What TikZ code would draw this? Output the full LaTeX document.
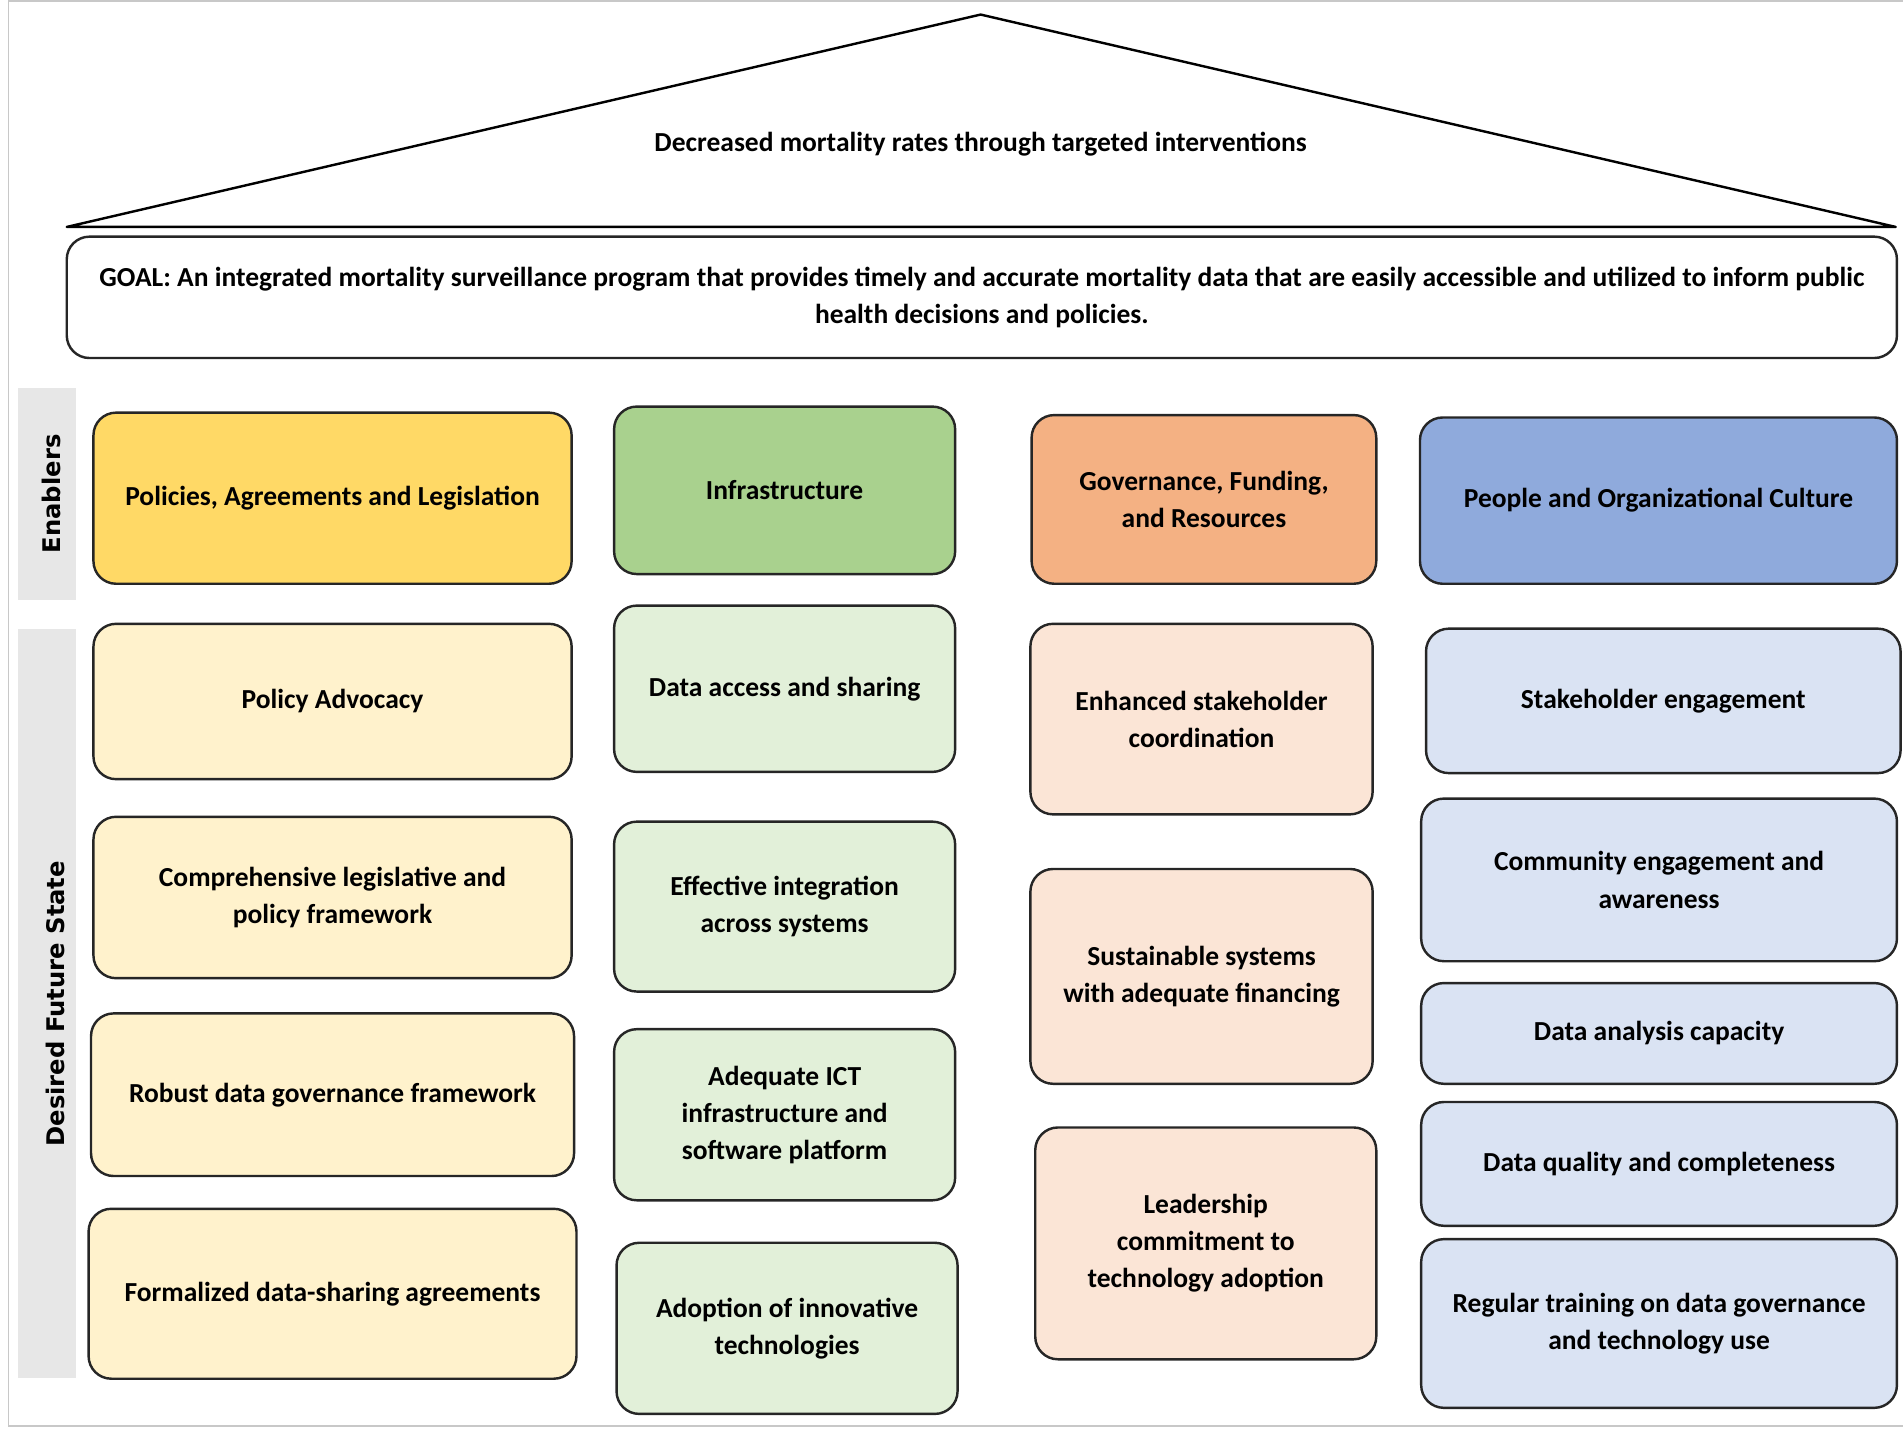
\documentclass[tikz,border=0pt]{standalone}
\usepackage{fontspec}
\setmainfont{Carlito}
\newfontfamily\sidefont{DejaVu Sans}

\definecolor{polDark}{HTML}{FFD966}
\definecolor{polLight}{HTML}{FFF2CC}
\definecolor{infDark}{HTML}{A9D18E}
\definecolor{infLight}{HTML}{E2F0D9}
\definecolor{govDark}{HTML}{F4B183}
\definecolor{govLight}{HTML}{FBE5D6}
\definecolor{pplDark}{HTML}{8FAADC}
\definecolor{pplLight}{HTML}{DAE3F3}
\definecolor{bandGray}{HTML}{E7E7E7}
\definecolor{frameGray}{HTML}{C8C8C8}

\tikzset{every picture/.style={line width=0.75pt}}
\tikzset{
  pillar/.style={draw=black!85, line width=1.5pt, rounded corners=14pt, align=center, inner sep=2pt,
    font=\bfseries\fontsize{17}{23}\selectfont},
  band/.style={fill=bandGray, draw=none},
  bandlabel/.style={rotate=90, font=\sidefont\bfseries\fontsize{15}{17}\selectfont}
}

\begin{document}
\begin{tikzpicture}[x=0.75pt,y=0.75pt,yscale=-1,xscale=1]
	\useasboundingbox (0,0) rectangle (1568,1177);
	%Frame
	\draw [frameGray, line width=1pt] (1568,1) -- (7,1) -- (7,1175) -- (1568,1175) ;

	%Shape: Roof
	\draw [line width=1.5pt, line join=round] (55,187) -- (808,12) -- (1562,187) -- cycle ;
	% Text Node
	\node [font=\bfseries\fontsize{17}{23}\selectfont] (roof) at (808,119) {Decreased mortality rates through targeted interventions};

	%Shape: Goal box
	\node [pillar, fill=white, minimum width=1131pt, minimum height=75pt] (goal) at (809,245)
	  {GOAL: An integrated mortality surveillance program that provides timely and accurate mortality data that are easily accessible and utilized to inform public\\ health decisions and policies.};

	%Side bands
	\fill [band] (15,320) rectangle (63,494) ;
	\fill [band] (15,518) rectangle (63,1135) ;
	% Text Node
	\node [bandlabel] (enab) at (42,407) {Enablers};
	% Text Node
	\node [bandlabel] (future) at (46,827) {Desired Future State};

	%Column: Policies
	\node [pillar, fill=polDark, minimum width=295.5pt, minimum height=105.75pt] (pol) at (274,410.5) {Policies, Agreements and Legislation};
	\node [pillar, fill=polLight, minimum width=295.5pt, minimum height=96pt] (adv) at (274,578) {Policy Advocacy};
	\node [pillar, fill=polLight, minimum width=295.5pt, minimum height=99.75pt] (leg) at (274,739.5) {Comprehensive legislative and\\ policy framework};
	\node [pillar, fill=polLight, minimum width=298.5pt, minimum height=100.5pt] (dgov) at (274,902) {Robust data governance framework};
	\node [pillar, fill=polLight, minimum width=301.5pt, minimum height=105pt] (dsa) at (274,1066) {Formalized data-sharing agreements};

	%Column: Infrastructure
	\node [pillar, fill=infDark, minimum width=210.75pt, minimum height=103.5pt] (infra) at (646.5,404) {Infrastructure};
	\node [pillar, fill=infLight, minimum width=210.75pt, minimum height=102.75pt] (access) at (646.5,567.5) {Data access and sharing};
	\node [pillar, fill=infLight, minimum width=210.75pt, minimum height=105pt] (integ) at (646.5,747) {Effective integration\\ across systems};
	\node [pillar, fill=infLight, minimum width=210.75pt, minimum height=105.75pt] (ict) at (646.5,918.5) {Adequate ICT\\ infrastructure and\\ software platform};
	\node [pillar, fill=infLight, minimum width=210.75pt, minimum height=105.75pt] (innov) at (648.5,1094.5) {Adoption of innovative\\ technologies};

	%Column: Governance
	\node [pillar, fill=govDark, minimum width=213pt, minimum height=104.25pt] (fund) at (992,411.5) {Governance, Funding,\\ and Resources};
	\node [pillar, fill=govLight, minimum width=211.5pt, minimum height=117.75pt] (coord) at (990,592.5) {Enhanced stakeholder\\ coordination};
	\node [pillar, fill=govLight, minimum width=211.5pt, minimum height=132.75pt] (sust) at (990,804.5) {Sustainable systems\\ with adequate financing};
	\node [pillar, fill=govLight, minimum width=210.75pt, minimum height=143.25pt] (lead) at (993.5,1024.5) {Leadership\\ commitment to\\ technology adoption};

	%Column: People
	\node [pillar, fill=pplDark, minimum width=294.75pt, minimum height=102.75pt] (people) at (1366.5,412.5) {People and Organizational Culture};
	\node [pillar, fill=pplLight, minimum width=293.25pt, minimum height=89.25pt] (stake) at (1370.5,577.5) {Stakeholder engagement};
	\node [pillar, fill=pplLight, minimum width=294pt, minimum height=100.5pt] (comm) at (1367,725) {Community engagement and\\ awareness};
	\node [pillar, fill=pplLight, minimum width=294pt, minimum height=62.25pt] (anal) at (1367,851.5) {Data analysis capacity};
	\node [pillar, fill=pplLight, minimum width=294pt, minimum height=76.5pt] (qual) at (1367,959) {Data quality and completeness};
	\node [pillar, fill=pplLight, minimum width=294pt, minimum height=104.25pt] (train) at (1367,1090.5) {Regular training on data governance\\ and technology use};

\end{tikzpicture}
\end{document}
